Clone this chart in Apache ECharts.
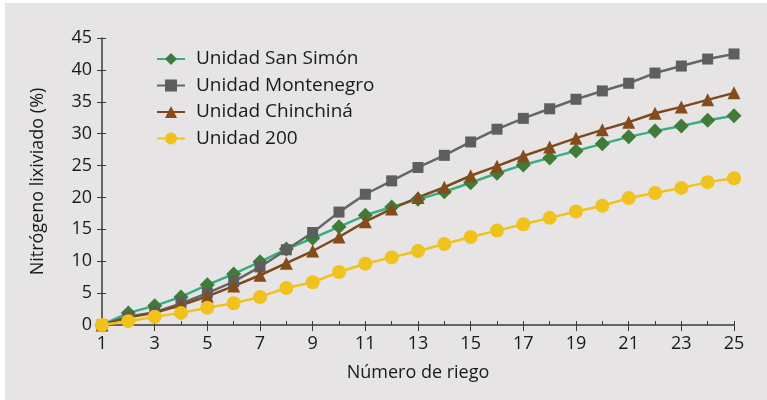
<!DOCTYPE html>
<html>
<head>
<meta charset="utf-8">
<script src="https://cdn.jsdelivr.net/npm/echarts@6/dist/echarts.min.js"></script>
<style>
  html, body { margin: 0; padding: 0; background: #fff; }
  #box { position: absolute; left: 5px; top: 3px; width: 762px; height: 397px; background: #e6e4e5; }
  #chart { width: 767px; height: 400px; position: absolute; left: 0; top: 0; }
</style>
</head>
<body>
<div id="box"></div>
<div id="chart"></div>
<script>
var riegos = ['1','2','3','4','5','6','7','8','9','10','11','12','13','14','15','16','17','18','19','20','21','22','23','24','25'];
var sanSimon = [0, 1.9, 3.0, 4.4, 6.3, 8.0, 9.9, 11.9, 13.6, 15.4, 17.2, 18.5, 19.7, 20.9, 22.3, 23.8, 25.1, 26.2, 27.3, 28.4, 29.5, 30.4, 31.2, 32.1, 32.8];
var montenegro = [0, 1.3, 2.0, 3.4, 5.0, 6.8, 9.1, 11.8, 14.5, 17.7, 20.5, 22.6, 24.7, 26.6, 28.7, 30.7, 32.4, 33.9, 35.4, 36.7, 37.9, 39.5, 40.6, 41.7, 42.5];
var chinchina = [0, 1.2, 1.9, 3.1, 4.5, 6.1, 7.8, 9.7, 11.6, 13.8, 16.2, 18.2, 20.0, 21.6, 23.4, 24.9, 26.5, 27.9, 29.3, 30.6, 31.8, 33.2, 34.2, 35.3, 36.4];
var unidad200 = [0, 0.6, 1.3, 1.9, 2.7, 3.4, 4.4, 5.8, 6.7, 8.3, 9.6, 10.6, 11.6, 12.7, 13.8, 14.8, 15.8, 16.8, 17.8, 18.7, 19.9, 20.7, 21.5, 22.4, 23.0];

var font = 'Open Sans';
var axisColor = '#3a3a3a';
var chart = echarts.init(document.getElementById('chart'));

function serie(name, data, lineColor, markColor, symbol, size) {
  return {
    name: name,
    type: 'line',
    data: data,
    symbol: symbol,
    symbolSize: size,
    lineStyle: { color: lineColor, width: 2.5 },
    itemStyle: { color: markColor },
    emphasis: { disabled: true }
  };
}

var option = {
  backgroundColor: 'transparent',
  textStyle: { fontFamily: font },
  legend: {
    orient: 'vertical',
    left: 151,
    top: 44,
    itemWidth: 28,
    itemHeight: 15,
    itemGap: 6.5,
    textStyle: { fontSize: 19, lineHeight: 20, color: '#1a1a1a', fontFamily: font, padding: [0, 0, 0, 6] },
    data: ['Unidad San Simón', 'Unidad Montenegro', 'Unidad Chinchiná', 'Unidad 200']
  },
  grid: { left: 102, right: 33, top: 38, bottom: 75, containLabel: false },
  xAxis: [{
    type: 'category',
    data: riegos,
    boundaryGap: false,
    name: 'Número de riego',
    nameLocation: 'middle',
    nameGap: 39,
    nameTextStyle: { fontSize: 18, color: '#1a1a1a' },
    axisLine: { lineStyle: { color: axisColor, width: 1.5 } },
    axisTick: { inside: true, interval: 0, length: 4, lineStyle: { color: axisColor } },
    axisLabel: { interval: 1, fontSize: 18, color: '#1a1a1a', margin: 10 },
    splitLine: { show: false }
  }, {
    type: 'category',
    data: riegos,
    boundaryGap: false,
    position: 'bottom',
    axisLine: { show: false },
    axisTick: { interval: 1, length: 6, lineStyle: { color: axisColor } },
    axisLabel: { show: false },
    splitLine: { show: false }
  }],
  yAxis: [{
    type: 'value',
    min: 0,
    max: 45,
    interval: 5,
    name: 'Nitrógeno lixiviado (%)',
    nameLocation: 'middle',
    nameGap: 55,
    nameTextStyle: { fontSize: 18, color: '#1a1a1a' },
    axisLine: { show: true, lineStyle: { color: axisColor, width: 1.5 } },
    axisTick: { show: true, length: 5, lineStyle: { color: axisColor } },
    axisLabel: { fontSize: 18, color: '#1a1a1a', margin: 10 },
    splitLine: { show: false }
  }, {
    type: 'value',
    min: 0,
    max: 45,
    interval: 5,
    position: 'left',
    axisLine: { show: false },
    axisTick: { show: true, inside: true, length: 4, lineStyle: { color: axisColor } },
    axisLabel: { show: false },
    splitLine: { show: false }
  }],
  series: [
    serie('Unidad San Simón', sanSimon, '#3aae80', '#3e7c3a', 'diamond', 15),
    serie('Unidad Montenegro', montenegro, '#666666', '#5e5e5e', 'rect', 11),
    serie('Unidad Chinchiná', chinchina, '#7d4a1e', '#864b1a', 'triangle', 13),
    serie('Unidad 200', unidad200, '#f0c21c', '#f0c21c', 'circle', 14)
  ]
};
chart.setOption(option);
</script>
</body>
</html>
